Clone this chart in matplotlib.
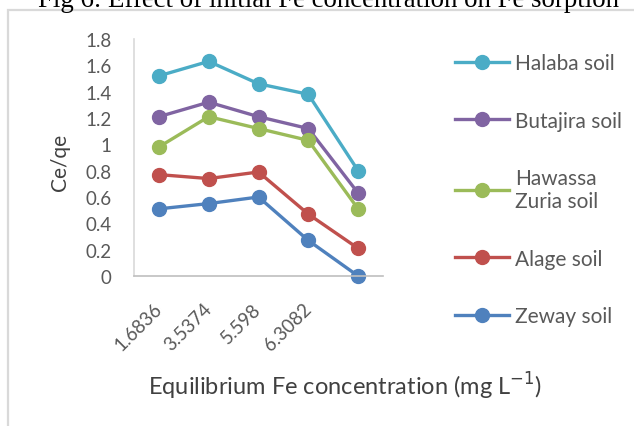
import matplotlib
matplotlib.use("Agg")
import matplotlib.pyplot as plt
from matplotlib.patches import Rectangle
from matplotlib.transforms import ScaledTranslation

# data
categories = ["1.6836", "3.5374", "5.598", "6.3082", ""]
series_names = ["Halaba soil", "Butajira soil", "Hawassa\nZuria soil", "Alage soil", "Zeway soil"]
halaba = [1.52, 1.63, 1.46, 1.38, 0.80]
butajira = [1.21, 1.32, 1.21, 1.12, 0.63]
hawassa = [0.98, 1.21, 1.12, 1.03, 0.51]
alage = [0.77, 0.74, 0.79, 0.47, 0.21]
zeway = [0.51, 0.55, 0.60, 0.27, 0.00]
colors = ["#4BACC6", "#8064A2", "#9BBB59", "#C0504D", "#4F81BD"]

plt.rcParams['font.family'] = ['Lato', 'DejaVu Sans']

W, H = 634, 427
fig = plt.figure(figsize=(W / 100, H / 100), dpi=100)
ax = fig.add_axes([134 / W, 1 - 277 / H, (383 - 134) / W, (277 - 40) / H])

# outer chart frame (only left/top visible in the crop)
fig.add_artist(Rectangle((8 / W, -0.1), 1.2, 1 - 11 / H + 0.1, transform=fig.transFigure,
                         fill=False, edgecolor="#d9d9d9", linewidth=1.6))

x = range(len(categories))
for vals, name, c in zip([halaba, butajira, hawassa, alage, zeway], series_names, colors):
    ax.plot(x, vals, color=c, linewidth=2.4, marker='o', markersize=10,
            label=name, clip_on=False)

ax.set_xlim(-0.5, 4.5)
ax.set_ylim(0, 1.8)
ax.set_yticks([0, 0.2, 0.4, 0.6, 0.8, 1, 1.2, 1.4, 1.6, 1.8])
ax.set_yticklabels(["0", "0.2", "0.4", "0.6", "0.8", "1", "1.2", "1.4", "1.6", "1.8"])
ax.set_xticks(list(x))
ax.set_xticklabels(categories, rotation=45, ha='right', va='top', rotation_mode='default')
ax.tick_params(axis='y', length=0, pad=16, labelsize=13.5, labelcolor="#595959")
ax.tick_params(axis='x', length=0, pad=17, labelsize=13.5, labelcolor="#595959")
shift = ScaledTranslation(6 / 100, 0, fig.dpi_scale_trans)
for lab in ax.get_xticklabels():
    lab.set_transform(lab.get_transform() + shift)

for s in ['top', 'right']:
    ax.spines[s].set_visible(False)
ax.spines['left'].set_color("#d9d9d9")
ax.spines['bottom'].set_color("#bfbfbf")
ax.spines['left'].set_linewidth(1.2)
ax.spines['bottom'].set_linewidth(1.2)

fig.text(60 / W, 1 - 162 / H, "Ce/qe", rotation=90, ha='center', va='center',
         fontsize=15, color="#404040")
fig.text(345 / W, 1 - 386 / H, "Equilibrium Fe concentration (mg L$^{-1}$)", ha='center', va='center',
         fontsize=17, color="#404040")

fig.text(328 / W, 1 - 7 / H, "Fig 6: Effect of initial Fe concentration on Fe sorption",
         ha='center', va='baseline', fontsize=19.4, family='Liberation Serif', color="black")

leg = ax.legend(loc='upper left', bbox_to_anchor=(455 / W, 1 - 54 / H),
                bbox_transform=fig.transFigure, frameon=False, borderpad=0, borderaxespad=0,
                handlelength=2.6, handletextpad=0.3, labelspacing=1.8, fontsize=15)
for t in leg.get_texts():
    t.set_color("#595959")
    t.set_multialignment('left')

fig.savefig("out.png", dpi=100)
